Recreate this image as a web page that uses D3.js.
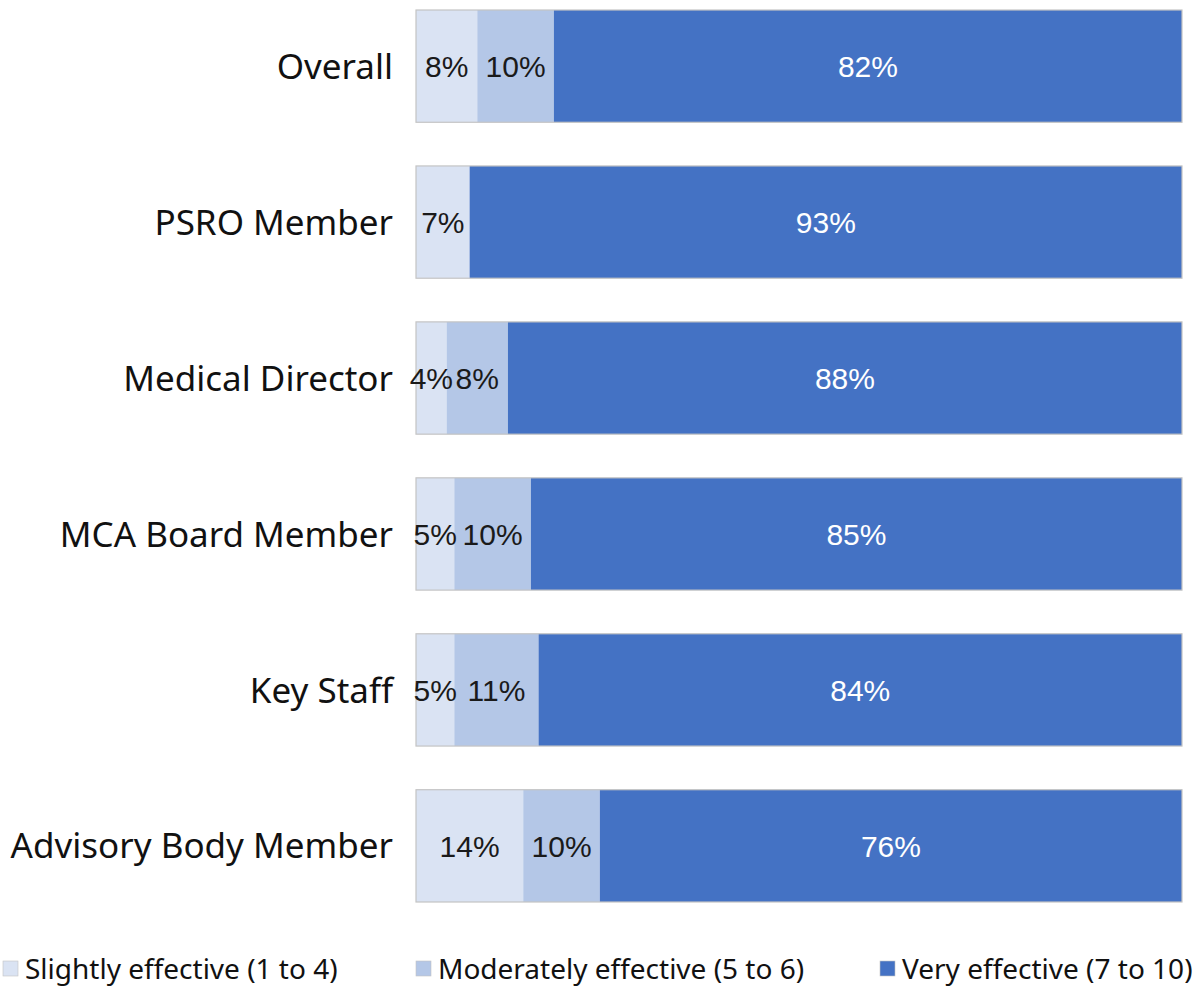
<!DOCTYPE html>
<html>
<head>
<meta charset="utf-8">
<script src="https://cdn.jsdelivr.net/npm/d3@7"></script>
<style>
  body { margin: 0; background: #fff; }
  svg { display: block; }
</style>
</head>
<body>
<svg id="drawing-area"></svg>
<script>
// values in percent
var categories = ["Overall", "PSRO Member", "Medical Director", "MCA Board Member", "Key Staff", "Advisory Body Member"];
var slightly   = [8, 7, 4, 5, 5, 14];
var moderately = [10, 0, 8, 10, 11, 10];
var very       = [82, 93, 88, 85, 84, 76];
var seriesNames = ["Slightly effective (1 to 4)", "Moderately effective (5 to 6)", "Very effective (7 to 10)"];
var seriesKeys = ["slightly", "moderately", "very"];

var width = 1204;
var height = 987;

var rows = categories.map(function(c, i){
    return {cat: c, slightly: slightly[i], moderately: moderately[i], very: very[i]};
});

var colors = {slightly: "#dae3f3", moderately: "#b4c7e7", very: "#4472c4"};
var textColors = {slightly: "#1a1a1a", moderately: "#1a1a1a", very: "#ffffff"};

var svg = d3.select("#drawing-area")
    .attr("width", width)
    .attr("height", height);

var xScale = d3.scaleLinear()
    .domain([0, 100])
    .range([416, 1182]);

var yScale = d3.scaleBand()
    .domain(categories)
    .range([10, 902])
    .paddingInner(0.28)
    .paddingOuter(0);

var stacked = d3.stack().keys(seriesKeys)(rows);

var layers = svg.selectAll(".layer")
    .data(stacked)
    .enter()
    .append("g")
    .attr("class", "layer")
    .attr("fill", function(d){ return colors[d.key]; });

layers.selectAll("rect")
    .data(function(d){ return d; })
    .enter()
    .append("rect")
    .attr("x", function(d){ return xScale(d[0]); })
    .attr("y", function(d){ return yScale(d.data.cat); })
    .attr("width", function(d){ return xScale(d[1]) - xScale(d[0]); })
    .attr("height", yScale.bandwidth());

// thin grey outline round each bar
svg.selectAll(".outline")
    .data(rows)
    .enter()
    .append("rect")
    .attr("class", "outline")
    .attr("x", xScale(0))
    .attr("y", function(d){ return yScale(d.cat); })
    .attr("width", xScale(100) - xScale(0))
    .attr("height", yScale.bandwidth())
    .attr("fill", "none")
    .attr("stroke", "#c4c4c4")
    .attr("stroke-width", 1.2);

// value labels
stacked.forEach(function(layer){
    svg.selectAll(".lbl-" + layer.key)
        .data(layer.filter(function(d){ return d[1] - d[0] > 0; }))
        .enter()
        .append("text")
        .attr("class", "lbl-" + layer.key)
        .attr("x", function(d){ return (xScale(d[0]) + xScale(d[1])) / 2; })
        .attr("y", function(d){ return yScale(d.data.cat) + yScale.bandwidth() / 2; })
        .attr("dy", "0.36em")
        .attr("text-anchor", "middle")
        .style("font-family", "'Liberation Sans', Arial, sans-serif")
        .style("font-size", "30px")
        .attr("fill", textColors[layer.key])
        .text(function(d){ return (d[1] - d[0]) + "%"; });
});

// category axis, no line or ticks
var yAxis = d3.axisLeft(yScale).tickSize(0).tickPadding(0);
var axisG = svg.append("g")
    .attr("transform", "translate(393,0)")
    .call(yAxis);
axisG.select(".domain").remove();
axisG.selectAll("text")
    .attr("dy", "0.36em")
    .style("font-family", "'Noto Sans', sans-serif")
    .style("font-size", "35px")
    .attr("fill", "#111");

// legend
var legendX = [3, 416, 880];
var legend = svg.selectAll(".legend")
    .data(seriesKeys)
    .enter()
    .append("g")
    .attr("class", "legend")
    .attr("transform", function(d, i){ return "translate(" + legendX[i] + ",961)"; });

legend.append("rect")
    .attr("width", 15)
    .attr("height", 15)
    .attr("fill", function(d){ return colors[d]; })
    .attr("stroke", "#c4c4c4")
    .attr("stroke-width", 0.6);

legend.append("text")
    .attr("x", 22)
    .attr("y", 8)
    .attr("dy", "0.36em")
    .style("font-family", "'Noto Sans', sans-serif")
    .style("font-size", "28px")
    .attr("fill", "#111")
    .text(function(d, i){ return seriesNames[i]; });
</script>
</body>
</html>
